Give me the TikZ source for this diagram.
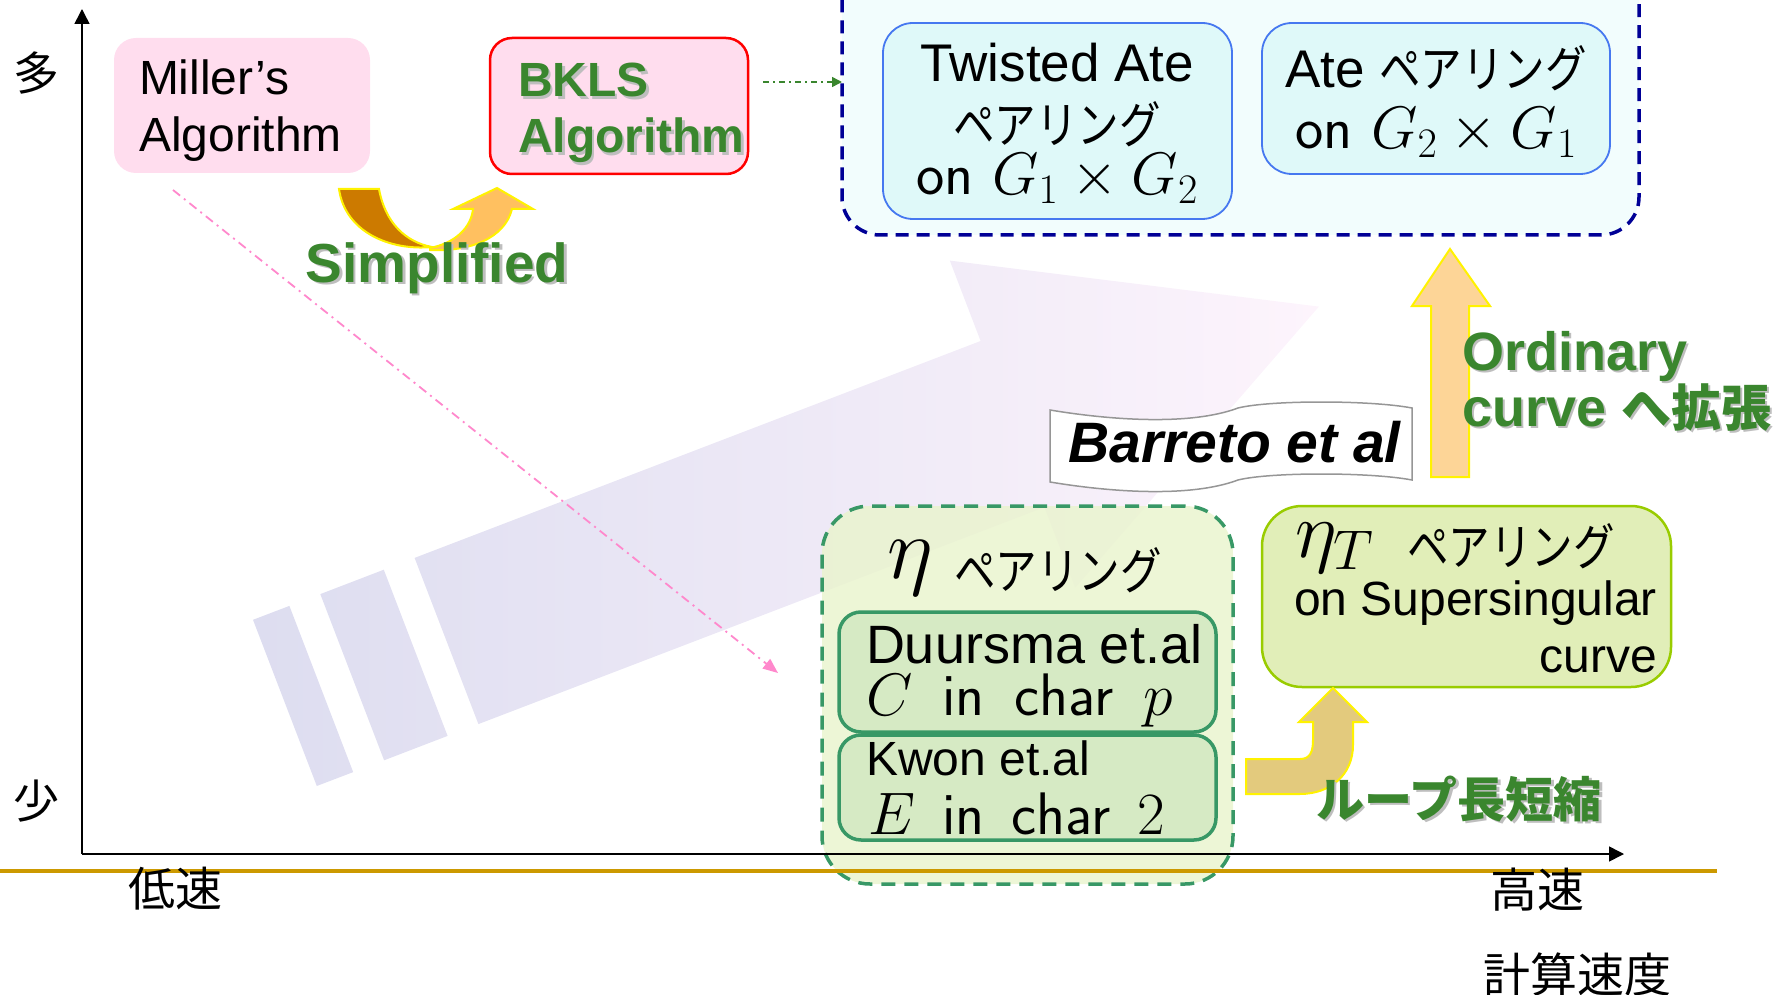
\RequirePackage{fix-cm}
\documentclass[tikz,border=0pt]{standalone}
\usepackage[no-math]{fontspec}
\setmainfont{Liberation Sans}
\newfontfamily\jp{Noto Sans CJK JP}
\newfontfamily\jpn[FakeStretch=0.83]{Noto Sans CJK JP}
\usetikzlibrary{arrows.meta}
\definecolor{pinkfill}{RGB}{255,221,238}
\definecolor{outerfill}{RGB}{242,253,253}
\definecolor{navy}{RGB}{0,0,150}
\definecolor{cyanfill}{RGB}{223,249,249}
\definecolor{cyanline}{RGB}{70,120,240}
\definecolor{etafill}{RGB}{233,244,204}
\definecolor{etaline}{RGB}{56,152,102}
\definecolor{greenfill}{RGB}{214,234,196}
\definecolor{ytfill}{RGB}{225,238,184}
\definecolor{ytline}{RGB}{153,204,0}
\definecolor{ordfill}{RGB}{253,213,151}
\definecolor{loopfill}{RGB}{227,202,125}
\definecolor{darkor}{RGB}{204,122,0}
\definecolor{lightor}{RGB}{255,192,96}
\definecolor{goldc}{RGB}{204,153,0}
\definecolor{pinkline}{RGB}{255,136,204}
\definecolor{tapegray}{RGB}{150,150,150}
\definecolor{gtext}{RGB}{58,134,46}
\definecolor{shgray}{RGB}{190,190,190}
\definecolor{arrL}{RGB}{221,221,240}
\definecolor{arrR}{RGB}{253,244,252}
\newcommand\fsz[1]{\fontsize{#1pt}{#1pt}\selectfont}
\newcommand\shd[1]{\leavevmode\rlap{\kern2.5pt\raisebox{-2.5pt}{\color{shgray}#1}}#1}
\begin{document}
\begin{tikzpicture}[x=1pt,y=-1pt,
  every node/.style={inner sep=0pt, outer sep=0pt},
  pinkbox/.style={fill=pinkfill, rounded corners=22pt},
  outerbox/.style={fill=outerfill, draw=navy, line width=3.5pt, dash pattern=on 13pt off 8pt, rounded corners=38pt},
  cyanbox/.style={fill=cyanfill, draw=cyanline, line width=1.8pt, rounded corners=30pt},
  etabox/.style={fill=etafill, fill opacity=0.8, draw=etaline, line width=3.5pt, dash pattern=on 14pt off 9pt, rounded corners=48pt},
  greenbox/.style={fill=greenfill, draw=etaline, line width=3.5pt, rounded corners=22pt},
  ytbox/.style={fill=ytfill, draw=ytline, line width=2.5pt, rounded corners=40pt},
  yarrow/.style={draw=yellow, line width=2pt, line join=miter},
  axisline/.style={line width=1.6pt, -{Triangle[length=15pt,width=15pt]}},
  goldline/.style={line width=3.5pt, draw=goldc},
  pinkdd/.style={draw=pinkline, line width=1.8pt, dash pattern=on 9pt off 5pt on 2pt off 5pt, -{Triangle[length=15pt,width=12pt]}},
  gdd/.style={draw=gtext, line width=1.5pt, dash pattern=on 6pt off 4pt on 2pt off 4pt, -{Triangle[length=10pt,width=10pt]}},
  gtxt/.style={text=gtext, font=\bfseries\fsz{#1}}
]
\useasboundingbox (0,0) rectangle (1786,995);
\clip (0,0) rectangle (1786,995);

% big translucent arrow
\path[left color=arrL, right color=arrR]
 (414.6,557.9) -- (980.6,341.0) -- (949.8,260.6) -- (1318.9,306.6) -- (1075.2,587.6) -- (1044.4,507.2) -- (478.4,724.1) -- cycle
 (320.3,594.1) -- (383.8,569.7) -- (447.6,735.9) -- (384.1,760.3) -- cycle
 (253.0,619.8) -- (289.4,605.9) -- (353.2,772.1) -- (316.8,786) -- cycle;

% pink dash-dot arrow
\coordinate (pkA) at (173,190);
\coordinate (pkB) at (778,673);
\draw[pinkdd] (pkA) -- (pkB);

% Miller
\node[pinkbox, minimum width=256pt, minimum height=135pt] (miller) at (242,105.5) {};
\node[anchor=base west, font=\fsz{48}] (m1) at (139,95) {Miller’s};
\node[anchor=base west, font=\fsz{48}] (m2) at (139,152) {Algorithm};

% BKLS
\node[pinkbox, draw=red, line width=2.5pt, minimum width=258pt, minimum height=136pt] (bkls) at (619,106) {};
\node[anchor=base west, gtxt=48] (b1) at (518,97) {\shd{BKLS}};
\node[anchor=base west, gtxt=48] (b2) at (518,153) {\shd{Algorithm}};

% Simplified U arrow
\path[fill=lightor, yarrow] (430,248) .. controls (455,243) and (471,228) .. (473,209) -- (453,209) -- (497,188) -- (533,209) -- (512,209) .. controls (505,238) and (470,252) .. (430,250) -- cycle;
\path[fill=darkor, yarrow] (339,189) -- (379,189) .. controls (385,222) and (405,242) .. (432,247) .. controls (390,251) and (345,232) .. (339,189) -- cycle;
\node[anchor=base, gtxt=55] (simp) at (437,282) {\shd{Simplified}};

% top dashed group
\node[outerbox, minimum width=797pt, minimum height=270pt] (outer) at (1240.5,100) {};
\node[cyanbox, minimum width=349pt, minimum height=196pt] (tw) at (1057.5,121) {};
\node[cyanbox, minimum width=348pt, minimum height=151pt] (ate) at (1436,98.5) {};
\node[anchor=base, font=\fsz{53}] (tw1) at (1057,82) {Twisted Ate};
\node[font=\jpn\fsz{50}] (tw2) at (1057,124) {ペアリング};
\node[anchor=base, font=\sffamily\fsz{60}] (tw3) at (1057,195) {on $G_1\times G_2$};
\node[anchor=base, font=\fsz{53}] (at1) at (1436,88) {Ate {\jpn\fsz{50}ペアリング}};
\node[anchor=base, font=\sffamily\fsz{60}] (at2) at (1436,149) {on $G_2\times G_1$};

% green dash-dot arrow
\coordinate (gA) at (763,82);
\draw[gdd] (gA) -- (gA -| outer.west);

% Barreto tape
\path[draw=tapegray, fill=white, line width=1.5pt]
 (1050,410) .. controls (1110,420) and (1190,426) .. (1238,408) .. controls (1270,400) and (1370,400) .. (1412,408)
 -- (1412,480) .. controls (1370,472) and (1270,472) .. (1238,480) .. controls (1190,498) and (1110,492) .. (1050,482) -- cycle;
\node[anchor=base, font=\bfseries\itshape\fsz{57}] (barreto) at (1234.5,462) {Barreto et al};

% Ordinary arrow
\path[fill=ordfill, yarrow] (1431,477) -- (1431,306) -- (1412,306) -- (1450,249) -- (1490,306) -- (1469,306) -- (1469,477) -- cycle;
\node[anchor=base west, gtxt=54] (ord1) at (1462,370) {\shd{Ordinary}};
\node[anchor=base west, gtxt=54] (ord2) at (1462,426) {\shd{curve {\jp\fsz{50}へ拡張}}};

% eta group
\node[etabox, minimum width=411pt, minimum height=378pt] (eta) at (1027.5,695) {};
\node[anchor=base, font=\fsz{88}] (etasym) at (910,578) {$\eta$};
\node[font=\jpn\fsz{50}] (eta2) at (1058,570) {ペアリング};
\node[greenbox, minimum width=377pt, minimum height=120pt] (du) at (1027.5,672) {};
\node[greenbox, minimum width=377pt, minimum height=105pt] (kw) at (1027.5,787.5) {};
\node[anchor=base west, font=\fsz{54}] (du1) at (866,663) {Duursma et.al};
\node[anchor=base west, font=\sffamily\fsz{60}] (du2) at (866,715) {$C$\hspace{0.5em}in\hspace{0.5em}char\hspace{0.5em}$p$};
\node[anchor=base west, font=\fsz{48}] (kw1) at (866,775) {Kwon et.al};
\node[anchor=base west, font=\sffamily\fsz{60}] (kw2) at (868,834) {$E$\hspace{0.45em}in\hspace{0.45em}char\hspace{0.45em}$2$};

% eta_T box
\node[ytbox, minimum width=409pt, minimum height=181pt] (etaT) at (1466.5,596.5) {};
\node[anchor=base west, font=\fsz{80}] (eT1) at (1295,557) {$\eta_T$};
\node[font=\jpn\fsz{50}] (eT2) at (1511,546) {ペアリング};
\node[anchor=base east, font=\fsz{48}] (eT3) at (1657,615) {on Supersingular};
\node[anchor=base east, font=\fsz{48}] (eT4) at (1657,672) {curve};

% loop arrow
\path[fill=loopfill, yarrow] (1246,759) -- (1300,759) .. controls (1310,759) and (1313,752) .. (1313,740) -- (1313,722) -- (1299,722) -- (1333,688) -- (1367,722) -- (1353,722) -- (1353,745) .. controls (1353,775) and (1330,794) .. (1300,794) -- (1246,794) -- cycle;
\node[text=gtext, font=\jp\bfseries\fsz{48}] (loop) at (1459,800) {\shd{ループ長短縮}};

% axes
\coordinate (O) at (82,854);
\coordinate (Ytop) at (82,9);
\coordinate (Xend) at (1624,854);
\draw[axisline] (O) -- (Ytop);
\draw[axisline] (O) -- (Xend);
\coordinate (gl1) at (0,871);
\coordinate (gl2) at (1717,871);
\draw[goldline] (gl1) -- (gl2);
\node[font=\jp\fsz{46}] (many) at (36,73) {多};
\node[font=\jp\fsz{46}] (few) at (36,801) {少};
\node[font=\jp\fsz{47}] (slow) at (175,889) {低速};
\node[font=\jp\fsz{47}] (fast) at (1537,890) {高速};
\node[font=\jp\fsz{47}] (speed) at (1577,975) {計算速度};
\end{tikzpicture}
\end{document}
